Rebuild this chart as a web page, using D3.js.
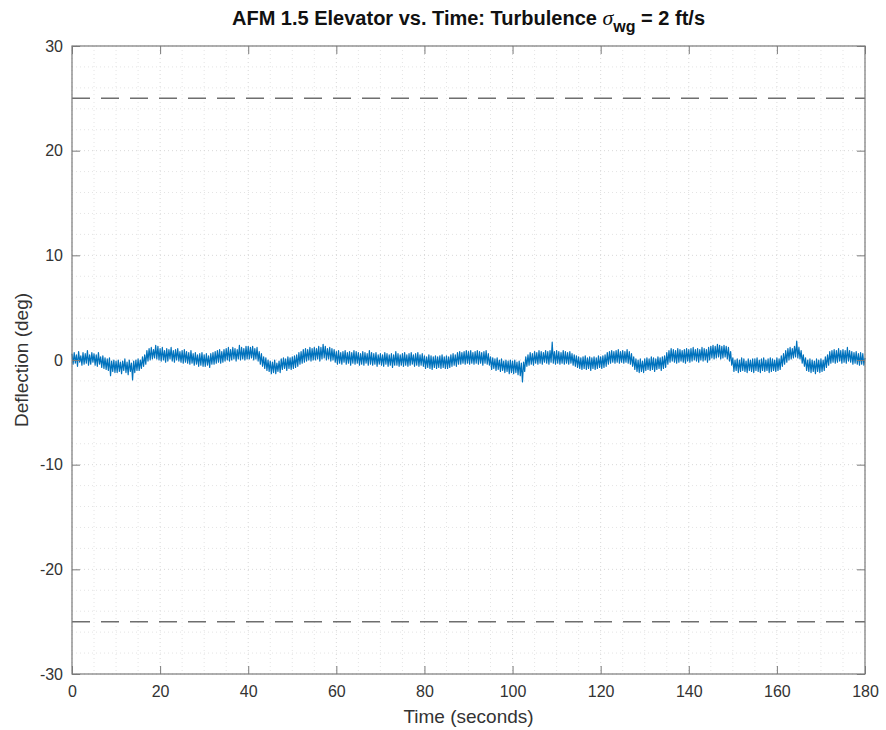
<!DOCTYPE html>
<html>
<head>
<meta charset="utf-8">
<script src="https://cdn.jsdelivr.net/npm/d3@7"></script>
<style>
  html, body { margin: 0; padding: 0; background: #fff; }
  svg { display: block; }
</style>
</head>
<body>
<svg id="chart" width="886" height="730"></svg>
<script>
// ---- data ----
const timeStep = 0.25; // seconds between samples
const elevator = [
  0.6, -0.4, 0.7, -0.3, 0.5, -0.6, 0.8, -0.2, 0.4, -0.5, 0.7, -0.4, 0.6, -0.3, 0.9, -0.5, 0.5, -0.4, 0.7, -0.2,
  0.6, -0.5, 0.5, -0.6, 0.7, -0.4, 0.3, -0.7, 0.4, -0.8, 0.2, -0.9, 0.1, -1.0, 0.2, -1.5, -0.1, -1.1, 0.0, -1.2,
  -0.1, -1.2, 0.0, -1.1, -0.2, -1.3, -0.1, -1.0, 0.1, -1.2, -0.2, -1.4, 0.0, -1.1, -0.3, -1.9, -0.1, -1.2, 0.0, -1.0,
  0.1, -1.0, 0.0, -0.8, 0.3, -0.6, 0.5, -0.4, 0.9, -0.1, 1.1, 0.0, 1.2, 0.1, 1.0, 0.2, 1.4, 0.1, 1.3, 0.0,
  1.1, -0.1, 1.2, 0.0, 0.9, -0.2, 1.1, -0.1, 1.0, 0.1, 1.2, -0.1, 0.9, -0.2, 1.0, 0.0, 1.1, -0.1, 0.8, -0.2,
  0.9, -0.3, 1.0, -0.2, 0.8, -0.3, 0.7, -0.4, 0.9, -0.3, 0.6, -0.5, 0.7, -0.4, 0.5, -0.6, 0.6, -0.5, 0.7, -0.6,
  0.5, -0.6, 0.6, -0.5, 0.4, -0.7, 0.6, -0.4, 0.7, -0.4, 0.8, -0.3, 0.9, -0.2, 1.0, -0.3, 0.8, -0.2, 1.0, -0.1,
  1.1, 0.0, 1.2, -0.1, 1.0, 0.0, 1.2, 0.1, 1.1, -0.1, 1.0, 0.1, 1.4, 0.0, 1.2, 0.1, 1.1, 0.0, 1.3, 0.1,
  1.3, 0.1, 1.2, 0.2, 1.3, 0.0, 1.1, 0.1, 1.2, -0.1, 0.8, -0.4, 0.6, -0.6, 0.3, -0.8, 0.2, -1.0, 0.0, -1.1,
  -0.1, -1.3, -0.2, -1.2, 0.0, -1.3, -0.3, -1.1, -0.1, -1.2, 0.1, -0.9, 0.2, -0.8, 0.1, -1.0, 0.3, -0.8, 0.2, -0.9,
  0.3, -0.8, 0.4, -0.7, 0.5, -0.6, 0.7, -0.4, 0.8, -0.3, 1.0, -0.2, 1.1, -0.1, 1.0, 0.0, 1.2, -0.1, 1.1, 0.0,
  1.2, 0.0, 1.1, 0.1, 1.3, -0.1, 1.2, 0.1, 1.5, 0.2, 1.3, 0.0, 1.1, 0.1, 1.2, -0.1, 1.1, 0.0, 1.0, -0.2,
  0.8, -0.4, 0.9, -0.3, 0.7, -0.4, 0.8, -0.2, 0.9, -0.4, 0.7, -0.3, 0.8, -0.5, 0.7, -0.3, 0.9, -0.4, 0.8, -0.3,
  0.7, -0.5, 0.6, -0.4, 0.8, -0.5, 0.7, -0.3, 0.6, -0.5, 0.9, -0.4, 0.7, -0.5, 0.6, -0.4, 0.7, -0.6, 0.5, -0.4,
  0.6, -0.5, 0.5, -0.6, 0.7, -0.4, 0.6, -0.6, 0.5, -0.5, 0.6, -0.7, 0.5, -0.5, 0.8, -0.5, 0.6, -0.6, 0.5, -0.5,
  0.6, -0.6, 0.7, -0.5, 0.5, -0.6, 0.6, -0.5, 0.7, -0.4, 0.5, -0.6, 0.6, -0.5, 0.7, -0.6, 0.5, -0.5, 0.6, -0.6,
  0.4, -0.8, 0.3, -0.7, 0.5, -0.8, 0.4, -0.9, 0.3, -0.7, 0.4, -0.8, 0.3, -0.7, 0.4, -0.8, 0.5, -0.7, 0.3, -0.8,
  0.4, -0.8, 0.3, -0.7, 0.5, -0.6, 0.6, -0.5, 0.5, -0.6, 0.7, -0.4, 0.8, -0.4, 0.7, -0.3, 0.8, -0.4, 0.9, -0.3,
  0.8, -0.4, 0.9, -0.3, 0.7, -0.4, 0.8, -0.3, 0.9, -0.4, 0.8, -0.3, 0.7, -0.5, 0.8, -0.3, 0.9, -0.4, 0.6, -0.5,
  0.3, -0.9, 0.2, -0.8, 0.1, -1.0, 0.2, -0.9, 0.0, -1.1, 0.1, -1.0, -0.1, -1.2, 0.0, -1.1, -0.1, -1.3, 0.0, -1.2,
  -0.1, -1.3, 0.0, -1.2, -0.2, -1.4, -0.1, -1.5, -0.3, -2.1, -0.2, -1.1, 0.3, -0.6, 0.5, -0.5, 0.7, -0.4, 0.6, -0.5,
  0.8, -0.3, 0.7, -0.4, 0.9, -0.3, 0.8, -0.4, 0.7, -0.2, 0.9, -0.3, 0.8, -0.4, 0.9, -0.2, 1.7, -0.3, 0.8, -0.4,
  0.9, -0.3, 0.8, -0.4, 0.7, -0.3, 0.9, -0.4, 0.8, -0.3, 0.7, -0.4, 0.8, -0.3, 0.6, -0.5, 0.5, -0.6, 0.4, -0.7,
  0.3, -0.8, 0.2, -0.9, 0.3, -0.8, 0.4, -0.9, 0.2, -0.8, 0.3, -1.0, 0.2, -0.8, 0.3, -0.9, 0.2, -0.8, 0.4, -0.7,
  0.3, -0.8, 0.4, -0.7, 0.5, -0.6, 0.7, -0.4, 0.8, -0.3, 0.9, -0.2, 0.8, -0.3, 0.9, -0.2, 1.0, -0.3, 0.8, -0.2,
  0.9, -0.3, 0.8, -0.2, 1.0, -0.3, 0.8, -0.4, 0.6, -0.6, 0.3, -0.9, 0.1, -1.1, 0.0, -1.2, 0.1, -1.1, -0.1, -1.2,
  0.1, -1.0, 0.2, -0.9, 0.1, -1.0, 0.3, -0.9, 0.2, -1.1, 0.1, -0.9, 0.3, -0.8, 0.2, -1.0, 0.3, -0.8, 0.4, -0.7,
  0.7, -0.4, 0.9, -0.2, 1.1, -0.1, 1.0, -0.2, 0.9, -0.3, 1.1, -0.2, 1.0, -0.1, 0.9, -0.2, 1.0, -0.3, 1.1, -0.1,
  1.0, -0.2, 1.1, -0.1, 1.2, 0.0, 1.0, -0.1, 1.1, -0.2, 1.0, 0.0, 1.2, -0.1, 1.1, 0.0, 1.0, -0.2, 1.2, 0.0,
  1.3, 0.2, 1.4, 0.1, 1.3, 0.2, 1.5, 0.3, 1.4, 0.1, 1.3, 0.2, 1.4, 0.3, 1.3, 0.1, 1.2, -0.1, 0.8, -0.5,
  0.2, -1.1, 0.0, -1.0, 0.1, -1.2, 0.0, -1.1, 0.2, -1.0, 0.1, -1.1, -0.1, -1.2, 0.1, -1.0, 0.0, -1.1, 0.1, -1.2,
  0.1, -1.0, 0.2, -1.1, 0.0, -1.2, 0.1, -1.0, 0.2, -1.1, 0.0, -1.0, 0.1, -1.2, 0.2, -1.1, 0.1, -1.0, 0.0, -1.1,
  0.2, -1.0, 0.1, -0.9, 0.4, -0.6, 0.6, -0.4, 0.9, -0.2, 1.1, 0.0, 1.2, 0.1, 1.1, 0.2, 1.3, 0.3, 1.8, 0.2,
  1.2, 0.1, 0.9, -0.3, 0.5, -0.6, 0.2, -1.0, 0.0, -1.1, 0.1, -1.2, 0.0, -1.1, -0.1, -1.3, 0.1, -1.1, 0.0, -1.2,
  0.1, -1.1, 0.0, -1.0, 0.3, -0.7, 0.5, -0.5, 0.8, -0.3, 0.9, -0.2, 1.0, -0.3, 0.9, -0.2, 1.1, -0.1, 0.9, -0.3,
  1.0, -0.2, 0.9, -0.3, 1.2, -0.1, 0.9, -0.2, 0.8, -0.4, 0.7, -0.3, 0.8, -0.4, 0.6, -0.5, 0.7, -0.4, 0.6, -0.5,
  0.2
];
const limits = [25, -25];
const xTicks = [0, 20, 40, 60, 80, 100, 120, 140, 160, 180];
const yTicks = [-30, -20, -10, 0, 10, 20, 30];
const xMinorTicks = d3.range(0, 181, 5);
const yMinorTicks = d3.range(-30, 31, 2);
const xDomain = [0, 180];
const yDomain = [-30, 30];
const titleMain = "AFM 1.5 Elevator vs. Time: Turbulence ";
const titleSigma = "\u03C3";
const titleSub = "wg";
const titleEnd = " = 2 ft/s";
const xLabel = "Time (seconds)";
const yLabel = "Deflection (deg)";

// ---- layout ----
const svg = d3.select("#chart");
const L = 72, R = 865, T = 46, B = 674;
const x = d3.scaleLinear().domain(xDomain).range([L, R]);
const y = d3.scaleLinear().domain(yDomain).range([B, T]);
const axisColor = "#7a7a7a";
const textColor = "#333";
const font = "'Liberation Sans', Arial, Helvetica, sans-serif";

// grid (minor + major, dotted)
const grid = svg.append("g");
grid.selectAll("line.gx").data(xMinorTicks).join("line")
  .attr("x1", d => x(d)).attr("x2", d => x(d)).attr("y1", T).attr("y2", B)
  .attr("stroke", d => d % 20 === 0 ? "#d8d8d8" : "#e4e4e4")
  .attr("stroke-width", 1).attr("stroke-dasharray", "1,3");
grid.selectAll("line.gy").data(yMinorTicks).join("line")
  .attr("y1", d => y(d)).attr("y2", d => y(d)).attr("x1", L).attr("x2", R)
  .attr("stroke", d => d % 10 === 0 ? "#d8d8d8" : "#e4e4e4")
  .attr("stroke-width", 1).attr("stroke-dasharray", "1,3");

// limit lines
svg.append("g").selectAll("line").data(limits).join("line")
  .attr("x1", L).attr("x2", R).attr("y1", d => y(d)).attr("y2", d => y(d))
  .attr("stroke", "#6e6e6e").attr("stroke-width", 1.5).attr("stroke-dasharray", "18,11");

// signal
const line = d3.line().x((d, i) => x(i * timeStep)).y(d => y(d));
svg.append("path").datum(elevator)
  .attr("d", line).attr("fill", "none")
  .attr("stroke", "#0072BD").attr("stroke-width", 1.2).attr("stroke-linejoin", "round");

// axes
const tickLen = 8;
const fmt = d => String(d);
function styleAxis(g) {
  g.select(".domain").remove();
  g.selectAll(".tick line").attr("stroke", axisColor);
  g.selectAll(".tick text").attr("fill", textColor).style("font-family", font).style("font-size", "16px");
}
svg.append("g").attr("transform", `translate(0,${B})`)
  .call(d3.axisBottom(x).tickValues(xTicks).tickFormat(fmt).tickSizeInner(-tickLen).tickSizeOuter(0).tickPadding(12))
  .call(styleAxis);
svg.append("g").attr("transform", `translate(0,${T})`)
  .call(d3.axisTop(x).tickValues(xTicks).tickSizeInner(-tickLen).tickSizeOuter(0).tickFormat(""))
  .call(styleAxis);
svg.append("g").attr("transform", `translate(${L},0)`)
  .call(d3.axisLeft(y).tickValues(yTicks).tickFormat(fmt).tickSizeInner(-tickLen).tickSizeOuter(0).tickPadding(9))
  .call(styleAxis);
svg.append("g").attr("transform", `translate(${R},0)`)
  .call(d3.axisRight(y).tickValues(yTicks).tickSizeInner(-tickLen).tickSizeOuter(0).tickFormat(""))
  .call(styleAxis);

// box
svg.append("rect").attr("x", L).attr("y", T).attr("width", R - L).attr("height", B - T)
  .attr("fill", "none").attr("stroke", axisColor).attr("stroke-width", 1.2);

// labels
svg.append("text").attr("x", (L + R) / 2).attr("y", 723)
  .attr("text-anchor", "middle").attr("fill", textColor)
  .style("font-family", font).style("font-size", "19px").text(xLabel);
svg.append("text").attr("transform", `translate(28,${(T + B) / 2}) rotate(-90)`)
  .attr("text-anchor", "middle").attr("fill", textColor)
  .style("font-family", font).style("font-size", "19px").text(yLabel);

// title
const title = svg.append("text").attr("x", (L + R) / 2).attr("y", 25)
  .attr("text-anchor", "middle").attr("fill", "#111")
  .style("font-family", font).style("font-size", "20px").style("font-weight", "bold");
title.append("tspan").text(titleMain);
title.append("tspan").text(titleSigma)
  .style("font-family", "'Liberation Serif', 'Times New Roman', serif")
  .style("font-style", "italic").style("font-weight", "normal").style("font-size", "22px");
title.append("tspan").attr("dy", 7).style("font-size", "16px").text(titleSub);
title.append("tspan").attr("dy", -7).text(titleEnd);
</script>
</body>
</html>
